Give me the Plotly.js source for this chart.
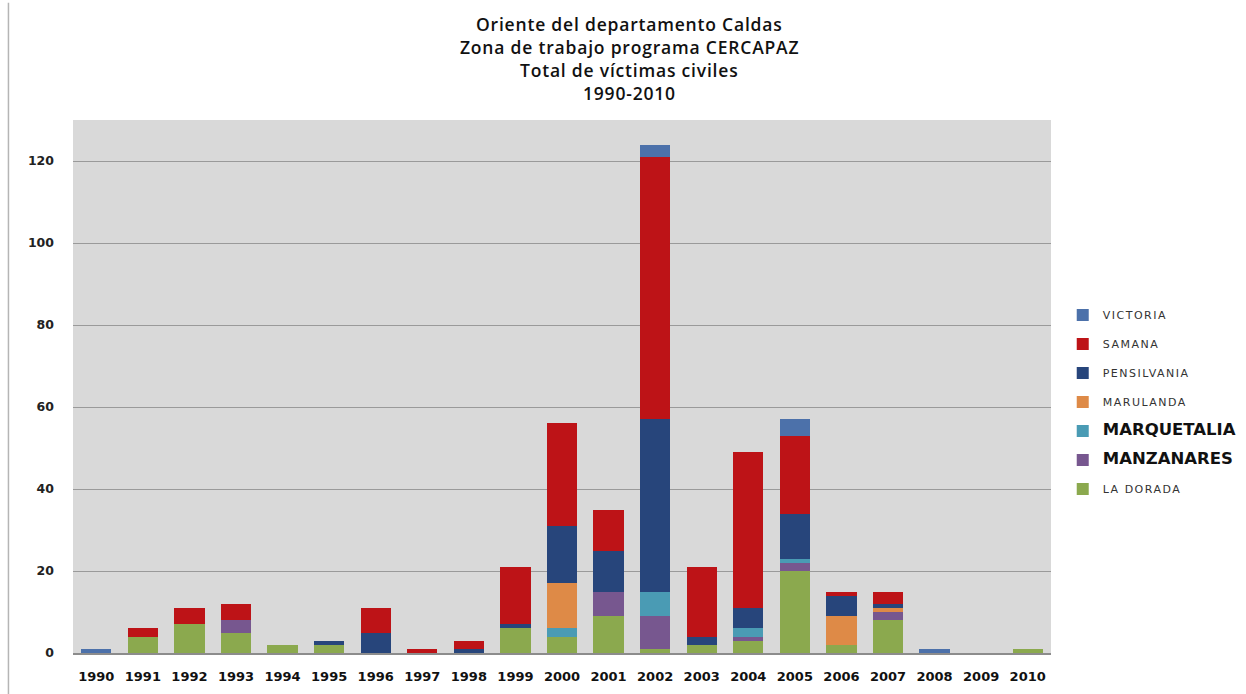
<!DOCTYPE html>
<html>
<head>
<meta charset="utf-8">
<script src="https://cdn.plot.ly/plotly-3.0.1.min.js"></script>
<style>html,body{margin:0;padding:0;background:#fff;}#chart{width:1246px;height:694px;}</style>
</head>
<body>
<div id="chart"></div>
<script>
var years = ['1990','1991','1992','1993','1994','1995','1996','1997','1998','1999','2000','2001','2002','2003','2004','2005','2006','2007','2008','2009','2010'];
var laDorada    = [0,4,7,5,2,2,0,0,0,6,4,9,1,2,3,20,2,8,0,0,1];
var manzanares  = [0,0,0,3,0,0,0,0,0,0,0,6,8,0,1,2,0,2,0,0,0];
var marquetalia = [0,0,0,0,0,0,0,0,0,0,2,0,6,0,2,1,0,0,0,0,0];
var marulanda   = [0,0,0,0,0,0,0,0,0,0,11,0,0,0,0,0,7,1,0,0,0];
var pensilvania = [0,0,0,0,0,1,5,0,1,1,14,10,42,2,5,11,5,1,0,0,0];
var samana      = [0,2,4,4,0,0,6,1,2,14,25,10,64,17,38,19,1,3,0,0,0];
var victoria    = [1,0,0,0,0,0,0,0,0,0,0,0,3,0,0,4,0,0,1,0,0];

var seriesNames = ['LA DORADA','MANZANARES','MARQUETALIA','MARULANDA','PENSILVANIA','SAMANA','VICTORIA'];
var seriesData = [laDorada, manzanares, marquetalia, marulanda, pensilvania, samana, victoria];
var colors = ['#8BA94E','#77578F','#4A9BB4','#DE8A47','#27457B','#BD1317','#4C71AA'];
var bigLabels = {'MANZANARES':true,'MARQUETALIA':true};
var titleLines = ['Oriente del departamento Caldas','Zona de trabajo programa CERCAPAZ','Total de víctimas civiles','1990-2010'];

var traces = seriesNames.map(function(n,i){
  var label = bigLabels[n]
    ? '<b><span style="font-size:16.5px;color:#111">'+n+'</span></b>'
    : '<span style="letter-spacing:1.5px">'+n+'</span>';
  return {
    type:'bar', x:years, y:seriesData[i], name:label,
    legendgroup:'g'+i,
    legendrank: seriesNames.length - i,
    marker:{color:colors[i], line:{width:0}},
    hoverinfo:'x+y'
  };
});

var titleY = [24, 47, 70, 93];
var annotations = titleLines.map(function(t,i){
  return {
    text:'<span style="letter-spacing:0.8px">'+t+'</span>', showarrow:false,
    xref:'paper', x:0.569, xanchor:'center',
    yref:'paper', y:(653-titleY[i])/533, yanchor:'middle',
    font:{family:'Open Sans, sans-serif', size:17.5, color:'#111', weight:600}
  };
});

var layout = {
  width:1246, height:694,
  margin:{l:73, r:195, t:120, b:41, autoexpand:false},
  paper_bgcolor:'#ffffff',
  plot_bgcolor:'#d9d9d9',
  barmode:'stack',
  bargap:0.35,
  annotations:annotations,
  xaxis:{
    type:'category',
    showgrid:false,
    showline:true, linecolor:'#8c8c8c', linewidth:1.5,
    ticks:'', ticklabelstandoff:11,
    tickfont:{family:'DejaVu Sans, sans-serif', size:13, color:'#111', weight:'bold'}
  },
  yaxis:{
    range:[0,130],
    tickvals:[0,20,40,60,80,100,120],
    showgrid:true, gridcolor:'#9a9a9a', gridwidth:1,
    zeroline:false,
    showline:false,
    ticks:'', ticklabelstandoff:18,
    tickfont:{family:'DejaVu Sans, sans-serif', size:12.5, color:'#222', weight:'bold'}
  },
  legend:{
    x:1.012, xanchor:'left', y:0.471, yanchor:'middle',
    traceorder:'grouped',
    tracegroupgap:10,
    font:{family:'DejaVu Sans, sans-serif', size:11, color:'#333'},
    bgcolor:'rgba(0,0,0,0)'
  },
  shapes:[{
    type:'line', xref:'paper', yref:'paper',
    x0:-0.066, x1:-0.066, y0:-0.08, y1:1.22,
    line:{color:'#b5b5b5', width:1.5}
  }],
  showlegend:true
};

Plotly.newPlot('chart', traces, layout, {displayModeBar:false, staticPlot:true});
</script>
</body>
</html>
